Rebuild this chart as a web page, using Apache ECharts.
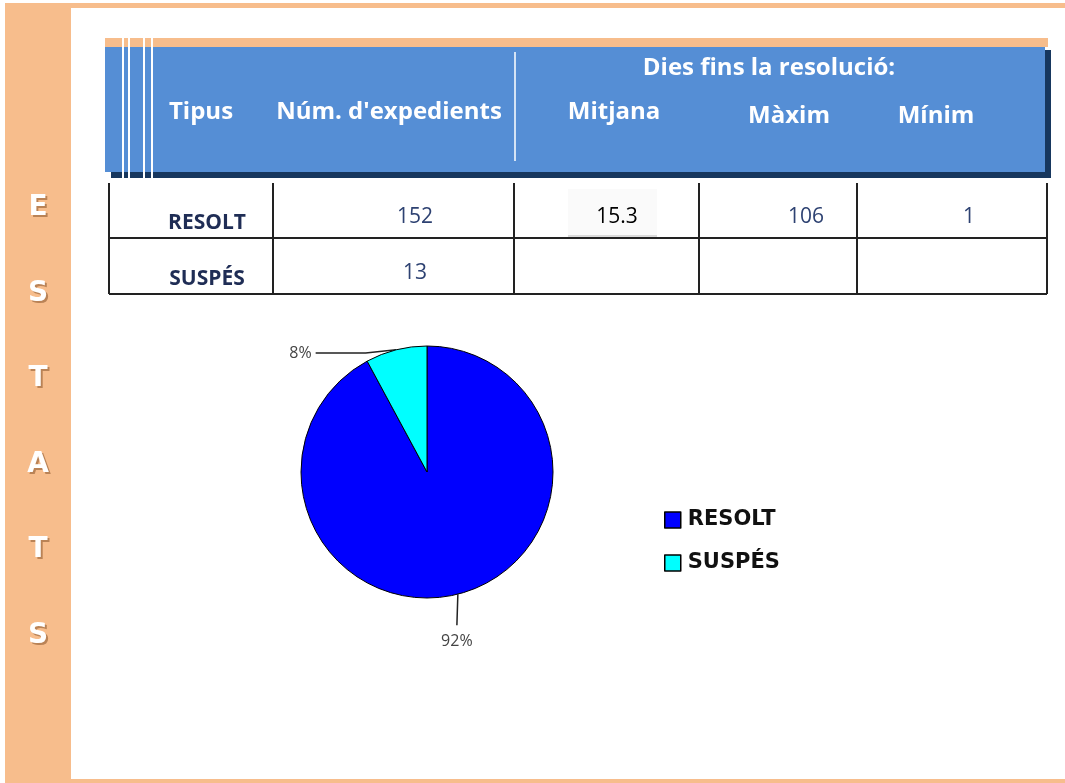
<!DOCTYPE html>
<html>
<head>
<meta charset="utf-8">
<script src="https://cdn.jsdelivr.net/npm/echarts@6/dist/echarts.min.js"></script>
<style>
  html, body { margin: 0; padding: 0; background: #fff; }
  #main { width: 1065px; height: 783px; }
</style>
</head>
<body>
<div id="main"></div>
<script>
// dades
var tipus = ['RESOLT', 'SUSPÉS'];
var expedients = [152, 13];
var mitjana = ['15.3', ''];
var maxim = ['106', ''];
var minim = ['1', ''];
var colors = ['#0000FF', '#00FFFF'];
var lletres = ['E', 'S', 'T', 'A', 'T', 'S'];

var ORANGE = '#F7BD8C';
var BLUE = '#558ED5';
var NAVY = '#17375E';
var HFONT = 'bold 24px "Open Sans", sans-serif';
var BFONT = '21px "Open Sans", sans-serif';
var LFONT = 'bold 28px "DejaVu Sans", sans-serif';

var g = [];
// marc taronja
g.push({ type: 'rect', shape: { x: 5, y: 3, width: 66, height: 780 }, style: { fill: ORANGE }, silent: true });
g.push({ type: 'rect', shape: { x: 5, y: 3, width: 1060, height: 5 }, style: { fill: ORANGE }, silent: true });
g.push({ type: 'rect', shape: { x: 71, y: 779, width: 994, height: 4 }, style: { fill: ORANGE }, silent: true });

// lletres de la barra lateral, amb ombra
lletres.forEach(function (l, i) {
  var y = 208 + i * 85.5;
  g.push({ type: 'text', x: 40, y: y + 2, style: { text: l, fill: 'rgba(110,60,20,0.45)', font: LFONT, align: 'center', verticalAlign: 'middle' } });
  g.push({ type: 'text', x: 38, y: y, style: { text: l, fill: '#fff', font: LFONT, align: 'center', verticalAlign: 'middle' } });
});

// capçalera de la taula
g.push({ type: 'rect', shape: { x: 105, y: 38, width: 943, height: 9 }, style: { fill: ORANGE } });
g.push({ type: 'rect', shape: { x: 111, y: 50, width: 940, height: 128 }, style: { fill: NAVY } });
g.push({ type: 'rect', shape: { x: 105, y: 47, width: 940, height: 125 }, style: { fill: BLUE } });
[122, 128, 143, 151].forEach(function (x) {
  g.push({ type: 'rect', shape: { x: x, y: 38, width: 2, height: 140 }, style: { fill: '#fff' } });
});
g.push({ type: 'line', shape: { x1: 515, y1: 52, x2: 515, y2: 161 }, style: { stroke: '#fff', lineWidth: 1.5 } });

var headers = [
  ['Tipus', 201, 112], ["Núm. d'expedients", 389, 112], ['Dies fins la resolució:', 769, 68],
  ['Mitjana', 614, 112], ['Màxim', 789, 116], ['Mínim', 936, 116]
];
headers.forEach(function (h) {
  g.push({ type: 'text', x: h[1], y: h[2], style: { text: h[0], fill: '#fff', font: HFONT, align: 'center', verticalAlign: 'middle' } });
});

// cos de la taula
var colX = [109, 273, 514, 699, 857, 1047];
colX.forEach(function (x) {
  g.push({ type: 'line', shape: { x1: x, y1: 183, x2: x, y2: 294 }, style: { stroke: '#222', lineWidth: 2 } });
});
[238, 294].forEach(function (y) {
  g.push({ type: 'line', shape: { x1: 109, y1: y, x2: 1047, y2: y }, style: { stroke: '#222', lineWidth: 2 } });
});
g.push({ type: 'rect', shape: { x: 568, y: 189, width: 89, height: 47 }, style: { fill: '#fafafa' } });
g.push({ type: 'line', shape: { x1: 568, y1: 236, x2: 657, y2: 236 }, style: { stroke: '#bbb', lineWidth: 1 } });

tipus.forEach(function (t, i) {
  var y = 217 + i * 56;
  g.push({ type: 'text', x: 207, y: y + 6, style: { text: t, fill: '#1F2D55', font: 'bold 21px "Open Sans", sans-serif', align: 'center', verticalAlign: 'middle' } });
  g.push({ type: 'text', x: 415, y: y, style: { text: String(expedients[i]), fill: '#2E4272', font: BFONT, align: 'center', verticalAlign: 'middle' } });
  g.push({ type: 'text', x: 617, y: y, style: { text: mitjana[i], fill: '#000', font: BFONT, align: 'center', verticalAlign: 'middle' } });
  g.push({ type: 'text', x: 806, y: y, style: { text: maxim[i], fill: '#2E4272', font: BFONT, align: 'center', verticalAlign: 'middle' } });
  g.push({ type: 'text', x: 969, y: y, style: { text: minim[i], fill: '#2E4272', font: BFONT, align: 'center', verticalAlign: 'middle' } });
});

var pieData = tipus.map(function (t, i) {
  var item = { name: t, value: expedients[i], itemStyle: { color: colors[i] } };
  if (i === 0) {
    item.labelLine = { length: 30, length2: 0 };
  } else {
    item.labelLine = { length: 2, length2: 80 };
  }
  return item;
});

var option = {
  backgroundColor: '#fff',
  animation: false,
  graphic: g,
  legend: {
    orient: 'vertical',
    left: 664, top: 508, padding: 0,
    itemWidth: 16, itemHeight: 16, itemGap: 19,
    icon: 'rect',
    itemStyle: { borderColor: '#000', borderWidth: 1.5 },
    textStyle: { fontFamily: '"DejaVu Sans", sans-serif', fontWeight: 'bold', fontSize: 21, lineHeight: 24, color: '#111', padding: [0, 0, 0, 2] },
    data: tipus
  },
  series: [{
    type: 'pie',
    center: [427, 472],
    radius: 126,
    startAngle: 90,
    percentPrecision: 0,
    itemStyle: { borderColor: '#000', borderWidth: 1 },
    label: {
      show: true, position: 'outside', formatter: '{d}%',
      fontFamily: '"Open Sans", sans-serif', fontSize: 16, color: '#444'
    },
    labelLine: { show: true, lineStyle: { color: '#222', width: 1.5 } },
    labelLayout: function (params) {
      var pts = params.labelLinePoints;
      if (!pts) return {};
      if (params.dataIndex === 0) {
        var p0 = pts[0];
        var p1 = [p0[0] - 1, p0[1] + 31];
        return {
          x: p1[0], y: p1[1] + 8, align: 'center', verticalAlign: 'top',
          labelLinePoints: [p0, p1, p1]
        };
      }
      var end = [pts[2][0], pts[2][1] + 5];
      return {
        x: end[0] - 4, y: end[1] + 1, align: 'right', verticalAlign: 'middle',
        labelLinePoints: [pts[0], [pts[1][0] - 30, pts[1][1] + 5], end]
      };
    },
    emphasis: { disabled: true },
    data: pieData
  }]
};

var myChart = echarts.init(document.getElementById('main'));
myChart.setOption(option, true);
</script>
</body>
</html>
